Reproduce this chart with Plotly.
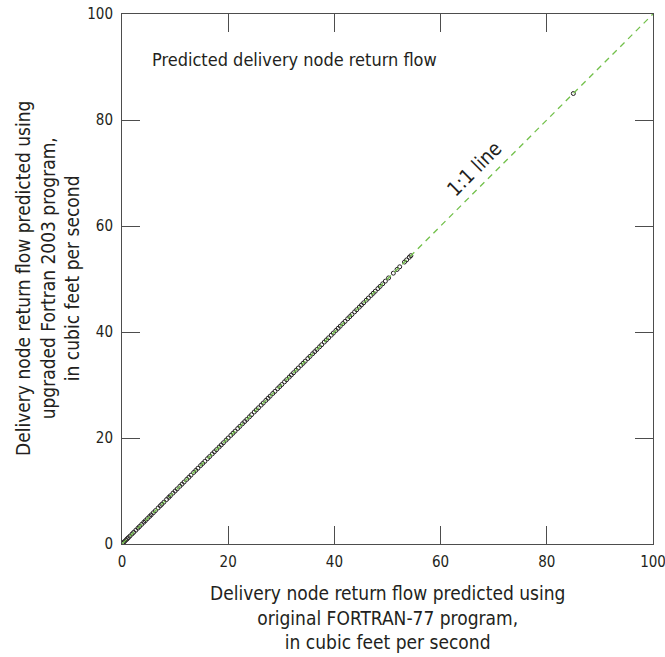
import plotly.graph_objects as go

# Data (original FORTRAN-77 vs upgraded Fortran 2003), cfs
fortran77 = [0.1, 0.3, 0.5, 0.8, 1.0, 1.2, 1.5, 1.9, 2.2, 2.6, 3.0, 3.3, 3.7, 4.1, 4.4, 4.8,
             5.2, 5.5, 5.9, 6.3, 6.8, 7.2, 7.5, 7.9, 8.4, 8.8, 9.1, 9.6, 10.0, 10.4, 10.9,
             11.3, 11.7, 12.2, 12.6, 13.0, 13.5, 13.9, 14.3, 14.8, 15.2, 15.6, 16.1, 16.5,
             17.0, 17.4, 17.8, 18.3, 18.7, 19.1, 19.6, 20.0, 20.5, 20.9, 21.3, 21.8, 22.2,
             22.7, 23.1, 23.5, 24.0, 24.4, 24.9, 25.3, 25.7, 26.2, 26.6, 27.1, 27.5, 27.9,
             28.4, 28.8, 29.3, 29.7, 30.1, 30.6, 31.0, 31.5, 31.9, 32.3, 32.8, 33.2, 33.7,
             34.1, 34.5, 35.0, 35.4, 35.9, 36.3, 36.7, 37.2, 37.6, 38.1, 38.5, 38.9, 39.4,
             39.8, 40.3, 40.7, 41.1, 41.6, 42.0, 42.5, 42.9, 43.3, 43.8, 44.2, 44.7, 45.1,
             45.5, 46.0, 46.4, 46.9, 47.3, 47.7, 48.2, 48.6, 49.1, 49.6, 50.2, 51.1, 51.8,
             52.3, 53.2, 53.6, 54.1, 54.4, 85.0]
fortran2003 = list(fortran77)

one_to_one = [0, 100]
ticks = [0, 20, 40, 60, 80, 100]

font_family = "Liberation Sans Narrow, DejaVu Sans Condensed, Arial Narrow, sans-serif"
txt = "#231f20"
axcol = "#4d4d4d"

fig = go.Figure()
fig.add_trace(go.Scatter(
    x=fortran77, y=fortran2003, mode="markers",
    marker=dict(symbol="circle-open", size=4, color="#231f20", line=dict(width=1)),
    showlegend=False, hoverinfo="x+y"))
fig.add_trace(go.Scatter(
    x=one_to_one, y=one_to_one, mode="lines",
    line=dict(color="#72c04a", width=1.3, dash="6px,5px"),
    showlegend=False, hoverinfo="skip"))

axis_common = dict(
    range=[0, 100], tickvals=ticks, ticks="inside", ticklen=18, tickwidth=1,
    tickcolor=axcol, showline=True, linecolor=axcol, linewidth=1, mirror="ticks",
    showgrid=False, zeroline=False, automargin=False, ticklabeloverflow="allow",
    tickfont=dict(family=font_family, size=15, color=txt),
)

title_font = dict(family=font_family, size=19, color=txt)

fig.update_layout(
    width=665, height=657,
    margin=dict(l=122, r=12, t=14, b=113, autoexpand=False),
    paper_bgcolor="white", plot_bgcolor="white",
    font=dict(family=font_family, color=txt),
    xaxis=dict(**axis_common, ticklabelstandoff=4),
    yaxis=dict(**axis_common, ticklabelstandoff=5),
    annotations=[
        dict(text="Predicted delivery node return flow", x=5.3, y=91.5, xref="x", yref="y",
             xanchor="left", yanchor="middle", showarrow=False,
             font=dict(family=font_family, size=18, color=txt)),
        dict(text="1:1 line", x=66.3, y=70.7, xref="x", yref="y", textangle=-45,
             showarrow=False, font=dict(family=font_family, size=20, color=txt)),
        dict(text="Delivery node return flow predicted using<br>original FORTRAN-77 program,<br>in cubic feet per second",
             x=0.5, y=0, xref="paper", yref="paper", xanchor="center", yanchor="top",
             yshift=-36, showarrow=False, font=title_font),
        dict(text="Delivery node return flow predicted using<br>upgraded Fortran 2003 program,<br>in cubic feet per second",
             x=0, y=0.5, xref="paper", yref="paper", xanchor="center", yanchor="middle",
             xshift=-75, textangle=-90, showarrow=False, font=title_font),
    ],
)

fig.write_html("out.html", config={"displayModeBar": False},
               post_script="document.body.style.margin='0';document.body.style.overflow='hidden';")
